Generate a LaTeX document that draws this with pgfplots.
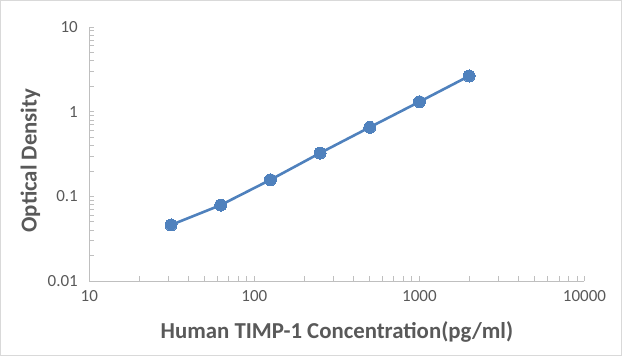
\documentclass[border=0pt]{standalone}
\usepackage{fontspec}
\setmainfont{Carlito}
\usepackage{pgfplots}
\pgfplotsset{compat=1.18}
\definecolor{txt}{HTML}{595959}
\definecolor{axl}{HTML}{BFBFBF}
\definecolor{ser}{HTML}{4F81BD}
\definecolor{frm}{HTML}{D9D9D9}
\begin{document}
\begin{tikzpicture}
\begin{loglogaxis}[
  scale only axis,
  width=495pt, height=254pt,
  at={(0,0)}, anchor=south west,
  xmin=10, xmax=10000, ymin=0.01, ymax=10,
  axis lines*=left,
  axis line style={axl, line width=0.9pt, -},
  tick style={axl, line width=0.8pt},
  tick align=inside,
  major tick length=5pt, minor tick length=5pt,
  xtick={10,100,1000,10000},
  xticklabels={10,100,1000,10000},
  ytick={0.01,0.1,1,10},
  yticklabels={0.01,0.1,1,10},
  ticklabel style={font=\fontsize{17}{20}\selectfont, text=txt},
  xticklabel style={yshift=-6pt},
  yticklabel style={xshift=-8pt},
  xlabel={Human TIMP-1 Concentration(pg/ml)},
  ylabel={Optical Density},
  label style={font=\bfseries\fontsize{22.8}{26}\selectfont, text=txt},
  xlabel style={at={(axis description cs:0.5,-0.2)}, anchor=center},
  ylabel style={at={(axis description cs:-0.119,0.474)}, anchor=center, rotate=0},
  clip=false,
]
\addplot[ser, line width=2.6pt, mark=*, mark size=6pt, mark options={fill=ser, draw=ser, line width=0pt}] coordinates {
 (31.25,0.046) (62.5,0.079) (125,0.157) (250,0.325) (500,0.655) (1000,1.31) (2000,2.64)
};
\end{loglogaxis}
\draw[frm, line width=1pt] (-88.8pt,-74.5pt) rectangle (532pt,280.5pt);
\end{tikzpicture}
\end{document}
